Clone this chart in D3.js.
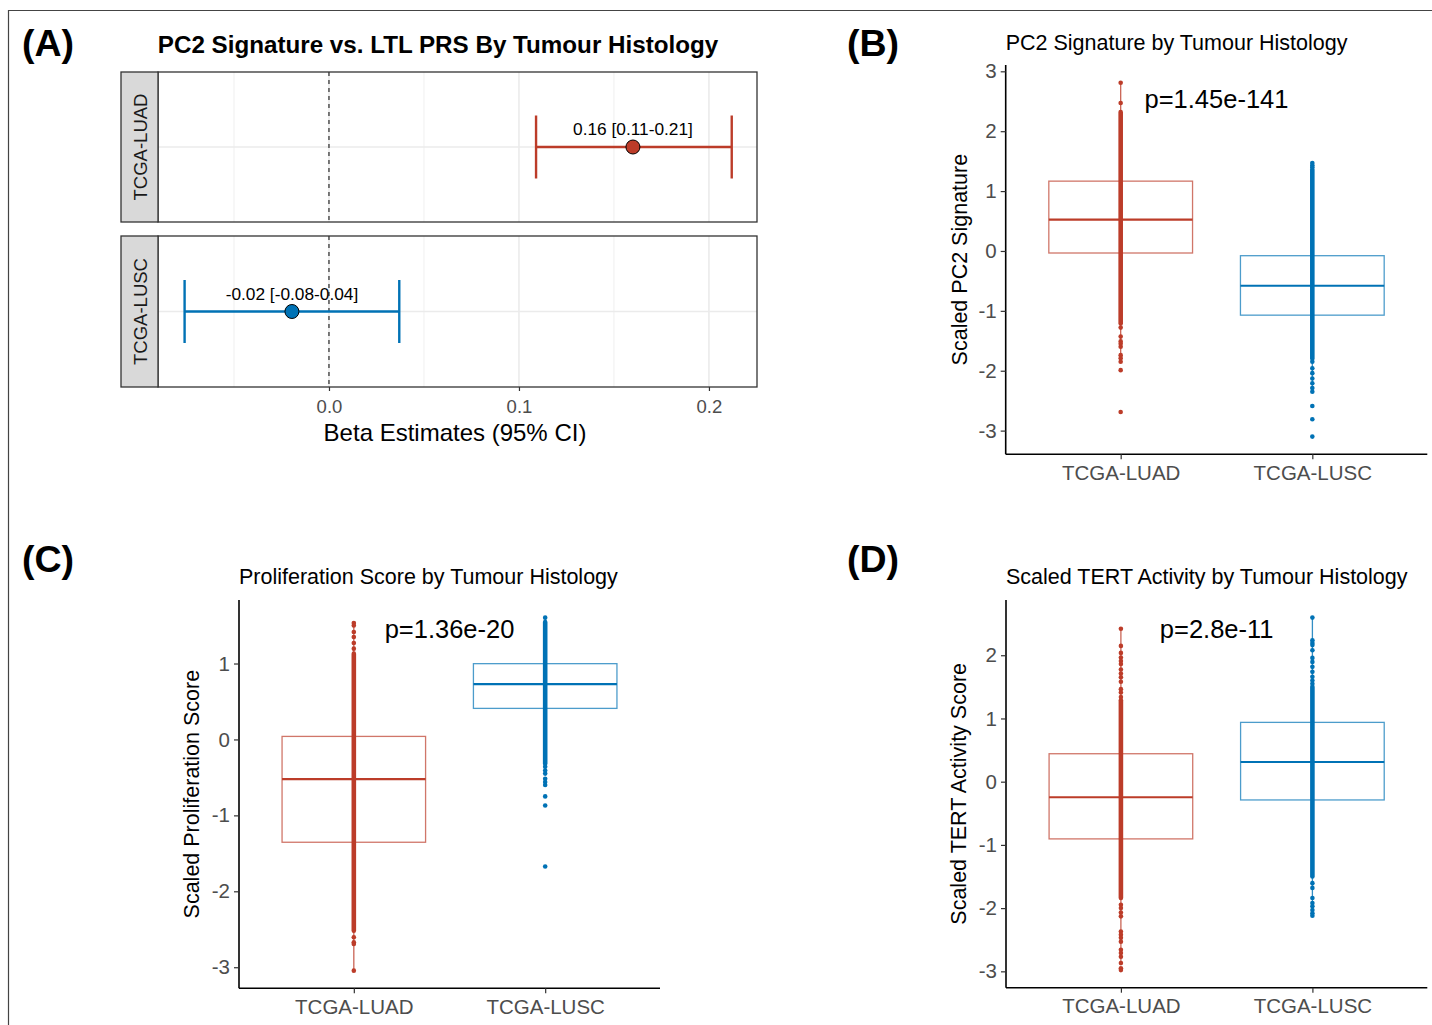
<!DOCTYPE html>
<html>
<head>
<meta charset="utf-8">
<script src="https://cdn.jsdelivr.net/npm/d3@7"></script>
<style>
  body { margin: 0; background: #fff; }
  text { font-family: "Liberation Sans", Arial, Helvetica, sans-serif; }
</style>
</head>
<body>
<svg id="fig" width="1432" height="1025"></svg>
<script>
// groups and colours
const groups = ["TCGA-LUAD", "TCGA-LUSC"];
const groupColors = ["#BC3C29", "#0072B5"];

// panel A: forest plot
const betaEst = [0.16, -0.0195];
const betaLow = [0.109, -0.076];
const betaHigh = [0.212, 0.037];
const betaLabels = ["0.16 [0.11-0.21]", "-0.02 [-0.08-0.04]"];
const betaTicks = [0, 0.1, 0.2];
const betaMinor = [-0.05, 0.05, 0.15];

// panel B: PC2 signature  (box = q1, median, q3)
const pc2Box = [[-0.034, 0.524, 1.166], [-1.072, -0.581, -0.079]];
const pc2Whisk = [[-1.79, 2.81], [-2.35, 1.47]];
const pc2Dense = [[-1.21, 2.32], [-1.80, 1.36]];
const pc2Points = [
  [2.81, 2.47, -1.28, -1.43, -1.51, -1.55, -1.60, -1.74, -1.79, -1.85, -1.99, -2.69],
  [1.47, 1.43, 1.40, -1.85, -1.96, -2.04, -2.13, -2.21, -2.29, -2.35, -2.59, -2.81, -3.10]
];
const pc2Ticks = [-3, -2, -1, 0, 1, 2, 3];

// panel C: proliferation score
const prolifBox = [[-1.354, -0.523, 0.04], [0.409, 0.729, 0.998]];
const prolifWhisk = [[-3.045, 1.533], [-0.45, 1.604]];
const prolifDense = [[-2.52, 1.13], [-0.32, 1.547]];
const prolifPoints = [
  [1.533, 1.50, 1.415, 1.349, 1.27, 1.196, -2.606, -2.672, -2.694, -3.045],
  [1.604, -0.36, -0.41, -0.45, -0.518, -0.56, -0.60, -0.75, -0.87, -1.674]
];
const prolifTicks = [-3, -2, -1, 0, 1];

// panel D: TERT activity
const tertBox = [[-0.905, -0.246, 0.442], [-0.289, 0.311, 0.938]];
const tertWhisk = [[-2.87, 2.42], [-2.12, 2.595]];
const tertDense = [[-1.84, 1.29], [-1.50, 1.50]];
const tertPoints = [
  [2.42, 2.148, 2.037, 1.963, 1.91, 1.86, 1.775, 1.71, 1.65, 1.58, 1.464, 1.41, 1.34,
   -1.947, -2.0, -2.07, -2.13, -2.37, -2.42, -2.47, -2.53, -2.66, -2.71, -2.77, -2.87, -2.95, -2.98],
  [2.595, 2.237, 2.195, 2.16, 2.08, 1.958, 1.895, 1.816, 1.737, 1.658, 1.60, 1.55,
   -1.605, -1.68, -1.84, -1.92, -1.97, -2.03, -2.08, -2.12]
];
const tertTicks = [-3, -2, -1, 0, 1, 2];

const svg = d3.select("#fig");

// outer frame
svg.append("path")
  .attr("d", "M8.5,1025 V10.5 H1432")
  .attr("fill", "none")
  .attr("stroke", "#444")
  .attr("stroke-width", 1.2);

// panel letters
const letters = [["(A)", 22, 56], ["(B)", 847, 56], ["(C)", 22, 572], ["(D)", 847, 572]];
svg.selectAll("text.letter")
  .data(letters)
  .join("text")
  .attr("class", "letter")
  .attr("x", d => d[1])
  .attr("y", d => d[2])
  .style("font-size", "37.5px")
  .style("font-weight", "bold")
  .text(d => d[0]);

// ---------- PANEL A ----------
function drawForest () {
  const left = 158, right = 757, stripLeft = 121;
  const facets = [[72, 222], [236, 387]];

  const x = d3.scaleLinear()
    .domain([-0.09, 0.2253])
    .range([left, right]);

  svg.append("text")
    .attr("x", 438)
    .attr("y", 53)
    .attr("text-anchor", "middle")
    .style("font-size", "24.2px")
    .style("font-weight", "bold")
    .text("PC2 Signature vs. LTL PRS By Tumour Histology");

  groups.forEach((g, i) => {
    const [top, bottom] = facets[i];
    const y = d3.scalePoint().domain([g]).range([top, bottom]).padding(0.5);
    const cy = y(g);
    const panel = svg.append("g");

    // grid
    panel.selectAll("line.minor")
      .data(betaMinor)
      .join("line")
      .attr("x1", d => x(d)).attr("x2", d => x(d))
      .attr("y1", top).attr("y2", bottom)
      .attr("stroke", "#EBEBEB").attr("stroke-width", 0.8);
    panel.selectAll("line.major")
      .data(betaTicks)
      .join("line")
      .attr("x1", d => x(d)).attr("x2", d => x(d))
      .attr("y1", top).attr("y2", bottom)
      .attr("stroke", "#EBEBEB").attr("stroke-width", 1.6);
    panel.append("line")
      .attr("x1", left).attr("x2", right)
      .attr("y1", cy).attr("y2", cy)
      .attr("stroke", "#EBEBEB").attr("stroke-width", 1.6);

    // zero reference line
    panel.append("line")
      .attr("x1", x(0)).attr("x2", x(0))
      .attr("y1", top).attr("y2", bottom)
      .attr("stroke", "#000").attr("stroke-width", 1)
      .attr("stroke-dasharray", "4,4");

    // error bar
    const col = groupColors[i];
    const half = 31.5;
    panel.append("line")
      .attr("x1", x(betaLow[i])).attr("x2", x(betaHigh[i]))
      .attr("y1", cy).attr("y2", cy)
      .attr("stroke", col).attr("stroke-width", 2.4);
    panel.selectAll("line.cap")
      .data([betaLow[i], betaHigh[i]])
      .join("line")
      .attr("x1", d => x(d)).attr("x2", d => x(d))
      .attr("y1", cy - half).attr("y2", cy + half)
      .attr("stroke", col).attr("stroke-width", 2.4);

    panel.append("circle")
      .attr("cx", x(betaEst[i])).attr("cy", cy).attr("r", 7)
      .attr("fill", col).attr("stroke", "#000").attr("stroke-width", 1);

    panel.append("text")
      .attr("x", x(betaEst[i])).attr("y", cy - 12)
      .attr("text-anchor", "middle")
      .style("font-size", "17.3px")
      .text(betaLabels[i]);

    // panel border and strip
    panel.append("rect")
      .attr("x", left).attr("y", top)
      .attr("width", right - left).attr("height", bottom - top)
      .attr("fill", "none").attr("stroke", "#333").attr("stroke-width", 1.3);
    panel.append("rect")
      .attr("x", stripLeft).attr("y", top)
      .attr("width", left - stripLeft).attr("height", bottom - top)
      .attr("fill", "#D9D9D9").attr("stroke", "#333").attr("stroke-width", 1.3);
    panel.append("text")
      .attr("transform", `translate(${(stripLeft + left) / 2 + 1}, ${cy}) rotate(-90)`)
      .attr("text-anchor", "middle")
      .attr("dominant-baseline", "central")
      .style("font-size", "18.5px")
      .style("fill", "#1A1A1A")
      .text(g);
  });

  // x axis
  const axis = svg.append("g")
    .attr("transform", `translate(0, ${facets[1][1]})`)
    .call(d3.axisBottom(x).tickValues(betaTicks).tickFormat(d3.format(".1f")).tickSize(4).tickPadding(9));
  axis.select(".domain").remove();
  axis.selectAll(".tick line").attr("stroke", "#333").attr("stroke-width", 1.2);
  axis.selectAll(".tick text").style("font-size", "18.5px").style("fill", "#4D4D4D")
    .style("font-family", "'Liberation Sans', Arial, sans-serif");

  svg.append("text")
    .attr("x", 455)
    .attr("y", 441)
    .attr("text-anchor", "middle")
    .style("font-size", "24px")
    .text("Beta Estimates (95% CI)");
}

// ---------- BOX PANELS ----------
function drawBoxPanel (cfg) {
  const { left, right, top, bottom } = cfg.rect;
  const g = svg.append("g");

  const allVals = cfg.points.flat().concat(cfg.dense.flat());
  const [lo, hi] = d3.extent(allVals);
  const pad = (hi - lo) * 0.05;

  const y = d3.scaleLinear().domain([lo - pad, hi + pad]).range([bottom, top]);
  const x = d3.scalePoint().domain(groups).range([left, right]).padding(0.6);
  const boxW = x.step() * 0.75;

  // title
  g.append("text")
    .attr("x", left).attr("y", cfg.titleY)
    .style("font-size", "21.5px")
    .text(cfg.title);

  groups.forEach((grp, i) => {
    const col = groupColors[i];
    const cx = x(grp);
    const [q1, med, q3] = cfg.box[i];

    // box
    g.append("rect")
      .attr("x", cx - boxW / 2).attr("y", y(q3))
      .attr("width", boxW).attr("height", y(q1) - y(q3))
      .attr("fill", "none").attr("stroke", col)
      .attr("stroke-opacity", 0.7).attr("stroke-width", 1.3);
    g.append("line")
      .attr("x1", cx - boxW / 2).attr("x2", cx + boxW / 2)
      .attr("y1", y(med)).attr("y2", y(med))
      .attr("stroke", col).attr("stroke-width", 2.2);

    // whiskers
    g.append("line")
      .attr("x1", cx).attr("x2", cx)
      .attr("y1", y(cfg.whisk[i][0])).attr("y2", y(cfg.whisk[i][1]))
      .attr("stroke", col).attr("stroke-opacity", 0.8).attr("stroke-width", 1.3);

    // densely overplotted points form a solid column
    g.append("line")
      .attr("x1", cx).attr("x2", cx)
      .attr("y1", y(cfg.dense[i][0])).attr("y2", y(cfg.dense[i][1]))
      .attr("stroke", col).attr("stroke-width", 4.6).attr("stroke-linecap", "round");

    g.selectAll(null)
      .data(cfg.points[i])
      .join("circle")
      .attr("cx", cx).attr("cy", d => y(d)).attr("r", 2.3)
      .attr("fill", col);
  });

  // p-value
  g.append("text")
    .attr("x", (x(groups[0]) + x(groups[1])) / 2)
    .attr("y", top + cfg.pOffset)
    .attr("text-anchor", "middle")
    .style("font-size", "25.5px")
    .text(cfg.pLabel);

  // axes
  const yAxis = g.append("g")
    .attr("transform", `translate(${left}, 0)`)
    .call(d3.axisLeft(y).tickValues(cfg.ticks).tickFormat(d => String(d)).tickSize(5).tickPadding(4));
  const xAxis = g.append("g")
    .attr("transform", `translate(0, ${bottom})`)
    .call(d3.axisBottom(x).tickSize(5).tickPadding(6));

  [yAxis, xAxis].forEach(ax => {
    ax.select(".domain").attr("stroke", "#000").attr("stroke-width", 1.6);
    ax.selectAll(".tick line").attr("stroke", "#333").attr("stroke-width", 1.2);
    ax.selectAll(".tick text")
      .style("font-size", "20.5px")
      .style("fill", "#4D4D4D")
      .style("font-family", "'Liberation Sans', Arial, sans-serif");
  });
  // ggplot axis line spans whole panel
  yAxis.select(".domain").attr("d", `M0,${top}V${bottom}`);
  xAxis.select(".domain").attr("d", `M${left},0H${right}`);

  g.append("text")
    .attr("transform", `translate(${cfg.yTitleX}, ${(top + bottom) / 2}) rotate(-90)`)
    .attr("text-anchor", "middle")
    .attr("dominant-baseline", "central")
    .style("font-size", "21.5px")
    .text(cfg.yTitle);
}

drawForest();

drawBoxPanel({
  rect: { left: 1005.7, right: 1427.3, top: 65, bottom: 454.3 },
  title: "PC2 Signature by Tumour Histology", titleY: 50,
  yTitle: "Scaled PC2 Signature", yTitleX: 960,
  pLabel: "p=1.45e-141", pOffset: 43,
  box: pc2Box, whisk: pc2Whisk, dense: pc2Dense, points: pc2Points, ticks: pc2Ticks
});

drawBoxPanel({
  rect: { left: 239, right: 660, top: 600, bottom: 988.3 },
  title: "Proliferation Score by Tumour Histology", titleY: 584,
  yTitle: "Scaled Proliferation Score", yTitleX: 192,
  pLabel: "p=1.36e-20", pOffset: 38,
  box: prolifBox, whisk: prolifWhisk, dense: prolifDense, points: prolifPoints, ticks: prolifTicks
});

drawBoxPanel({
  rect: { left: 1006, right: 1427.3, top: 600, bottom: 987.7 },
  title: "Scaled TERT Activity by Tumour Histology", titleY: 584,
  yTitle: "Scaled TERT Activity Score", yTitleX: 959,
  pLabel: "p=2.8e-11", pOffset: 38,
  box: tertBox, whisk: tertWhisk, dense: tertDense, points: tertPoints, ticks: tertTicks
});
</script>
</body>
</html>
